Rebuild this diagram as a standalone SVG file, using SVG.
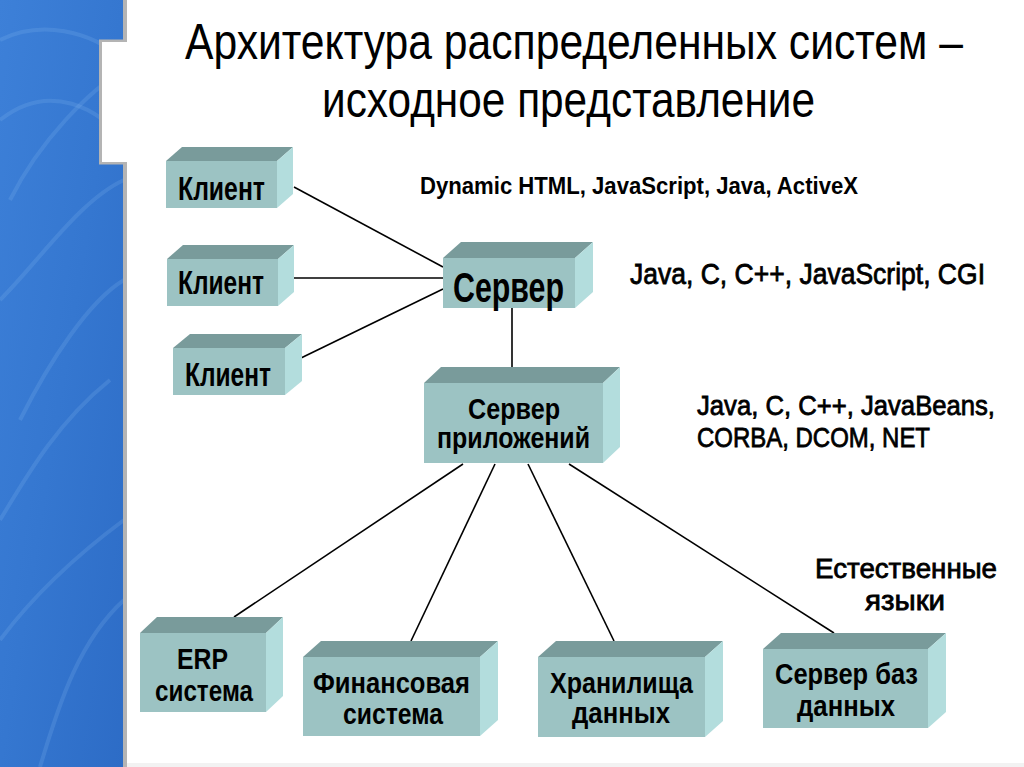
<svg xmlns="http://www.w3.org/2000/svg" width="1024" height="767" viewBox="0 0 1024 767">
<defs>
<linearGradient id="bg" x1="0" y1="0" x2="1" y2="1">
<stop offset="0" stop-color="#3d80d8"/>
<stop offset="0.5" stop-color="#3577d0"/>
<stop offset="1" stop-color="#2d6cc6"/>
</linearGradient>
</defs>
<style>
.front{fill:#9cc3c3}
.top{fill:#799b9b}
.side{fill:#b3dddd}
.nt{font-family:"Liberation Sans Narrow","Liberation Sans",Arial,sans-serif;font-weight:bold;fill:#000}
.ann{font-family:"Liberation Sans Narrow","Liberation Sans",Arial,sans-serif;fill:#000}
.title{font-family:"Liberation Sans Narrow","Liberation Sans",Arial,sans-serif;fill:#000;font-size:50px}
.conn line{stroke:#000;stroke-width:1.6}
.swirl{fill:none;stroke:#8fc0f5;stroke-opacity:0.18;stroke-width:4}
</style>
<rect x="0" y="0" width="1024" height="767" fill="#ffffff"/>
<g id="background">
<rect x="0" y="0" width="124" height="767" fill="url(#bg)"/>
<path class="swirl" d="M0 40 C40 20 90 30 124 60"/>
<path class="swirl" d="M0 120 C50 80 100 110 124 140"/>
<path class="swirl" d="M10 200 C40 140 90 90 124 70"/>
<path class="swirl" d="M0 300 C40 260 80 200 124 180"/>
<path class="swirl" d="M20 420 C50 360 90 300 124 280"/>
<path class="swirl" d="M0 520 C30 470 60 420 110 380"/>
<path class="swirl" d="M40 767 C60 700 80 640 124 600"/>
<path class="swirl" d="M0 640 C30 600 70 560 124 520"/>
<rect x="123" y="0" width="4" height="767" fill="#b4b4b4"/>
<rect x="99" y="39.5" width="28" height="125" fill="#b4b4b4"/>
<rect x="102" y="42" width="25" height="120" fill="#ffffff"/>
<rect x="127" y="763" width="897" height="4" fill="#f2f2f2"/>
</g>
<g id="title">
<text class="title" transform="translate(185 59) scale(0.853 1)" x="0" y="0" textLength="912" lengthAdjust="spacingAndGlyphs">Архитектура распределенных систем –</text>
<text class="title" x="322" y="117" textLength="493" lengthAdjust="spacingAndGlyphs">исходное представление</text>
</g>
<g id="connectors" class="conn">
<line x1="294" y1="187" x2="443" y2="267"/>
<line x1="294" y1="278" x2="443" y2="278"/>
<line x1="301" y1="358" x2="443" y2="289"/>
<line x1="512" y1="308" x2="512" y2="383"/>
<line x1="463" y1="464" x2="234" y2="617"/>
<line x1="495" y1="464" x2="411" y2="641"/>
<line x1="528" y1="464" x2="614" y2="641"/>
<line x1="569" y1="464" x2="834" y2="633"/>
</g>
<g id="client1">
<polygon class="top" points="166,161 182,147 293,147 277,161"/>
<polygon class="side" points="277,161 293,147 293,194 277,208"/>
<rect class="front" x="166" y="161" width="111" height="47"/>
<text class="nt" x="178" y="200" font-size="34" textLength="87" lengthAdjust="spacingAndGlyphs">Клиент</text>
</g>
<g id="client2">
<polygon class="top" points="167,259 183,245 294,245 278,259"/>
<polygon class="side" points="278,259 294,245 294,292 278,306"/>
<rect class="front" x="167" y="259" width="111" height="47"/>
<text class="nt" x="178" y="294" font-size="34" textLength="86" lengthAdjust="spacingAndGlyphs">Клиент</text>
</g>
<g id="client3">
<polygon class="top" points="173,348 190,334 302,334 285,348"/>
<polygon class="side" points="285,348 302,334 302,381 285,395"/>
<rect class="front" x="173" y="348" width="112" height="47"/>
<text class="nt" x="185" y="386" font-size="34" textLength="86" lengthAdjust="spacingAndGlyphs">Клиент</text>
</g>
<g id="server">
<polygon class="top" points="443,258 461,242 593,242 575,258"/>
<polygon class="side" points="575,258 593,242 593,292 575,308"/>
<rect class="front" x="443" y="258" width="132" height="50"/>
<text class="nt" x="453" y="302" font-size="42" textLength="111" lengthAdjust="spacingAndGlyphs">Сервер</text>
</g>
<g id="appserver">
<polygon class="top" points="424,383 441,367 620,367 603,383"/>
<polygon class="side" points="603,383 620,367 620,447 603,463"/>
<rect class="front" x="424" y="383" width="179" height="80"/>
<text class="nt" x="468" y="419" font-size="29" textLength="92" lengthAdjust="spacingAndGlyphs">Сервер</text>
<text class="nt" x="437" y="448" font-size="29" textLength="153" lengthAdjust="spacingAndGlyphs">приложений</text>
</g>
<g id="erp">
<polygon class="top" points="140,633 157,617 283,617 266,633"/>
<polygon class="side" points="266,633 283,617 283,696 266,712"/>
<rect class="front" x="140" y="633" width="126" height="79"/>
<text class="nt" x="177" y="669" font-size="29" textLength="51" lengthAdjust="spacingAndGlyphs">ERP</text>
<text class="nt" x="155" y="701" font-size="29" textLength="98" lengthAdjust="spacingAndGlyphs">система</text>
</g>
<g id="finance">
<polygon class="top" points="303,657 321,641 498,641 480,657"/>
<polygon class="side" points="480,657 498,641 498,720 480,736"/>
<rect class="front" x="303" y="657" width="177" height="79"/>
<text class="nt" x="313" y="693" font-size="29" textLength="157" lengthAdjust="spacingAndGlyphs">Финансовая</text>
<text class="nt" x="343" y="724" font-size="29" textLength="100" lengthAdjust="spacingAndGlyphs">система</text>
</g>
<g id="storage">
<polygon class="top" points="538,657 556,641 723,641 705,657"/>
<polygon class="side" points="705,657 723,641 723,721 705,737"/>
<rect class="front" x="538" y="657" width="167" height="80"/>
<text class="nt" x="550" y="693" font-size="29" textLength="143" lengthAdjust="spacingAndGlyphs">Хранилища</text>
<text class="nt" x="572" y="723" font-size="29" textLength="98" lengthAdjust="spacingAndGlyphs">данных</text>
</g>
<g id="dbserver">
<polygon class="top" points="763,649 781,633 946,633 928,649"/>
<polygon class="side" points="928,649 946,633 946,712 928,728"/>
<rect class="front" x="763" y="649" width="165" height="79"/>
<text class="nt" x="775" y="684" font-size="29" textLength="143" lengthAdjust="spacingAndGlyphs">Сервер баз</text>
<text class="nt" x="797" y="716" font-size="29" textLength="98" lengthAdjust="spacingAndGlyphs">данных</text>
</g>
<g id="annotations">
<text class="ann" x="420" y="194" font-size="24" font-weight="bold" textLength="438" lengthAdjust="spacingAndGlyphs">Dynamic HTML, JavaScript, Java, ActiveX</text>
<text class="ann" transform="translate(630 284) scale(0.8875 1)" x="0" y="0" font-size="30" stroke="#000" stroke-width="0.8" textLength="400" lengthAdjust="spacingAndGlyphs">Java, C, C++, JavaScript, CGI</text>
<text class="ann" x="697" y="415" font-size="28" stroke="#000" stroke-width="0.8" textLength="298" lengthAdjust="spacingAndGlyphs">Java, C, C++, JavaBeans,</text>
<text class="ann" x="697" y="447" font-size="28" stroke="#000" stroke-width="0.8" textLength="233" lengthAdjust="spacingAndGlyphs">CORBA, DCOM, NET</text>
<text class="ann" x="815" y="578" font-size="28" stroke="#000" stroke-width="0.8" textLength="182" lengthAdjust="spacingAndGlyphs">Естественные</text>
<text class="ann" x="865" y="610" font-size="28" stroke="#000" stroke-width="0.8" textLength="80" lengthAdjust="spacingAndGlyphs">языки</text>
</g>
</svg>
